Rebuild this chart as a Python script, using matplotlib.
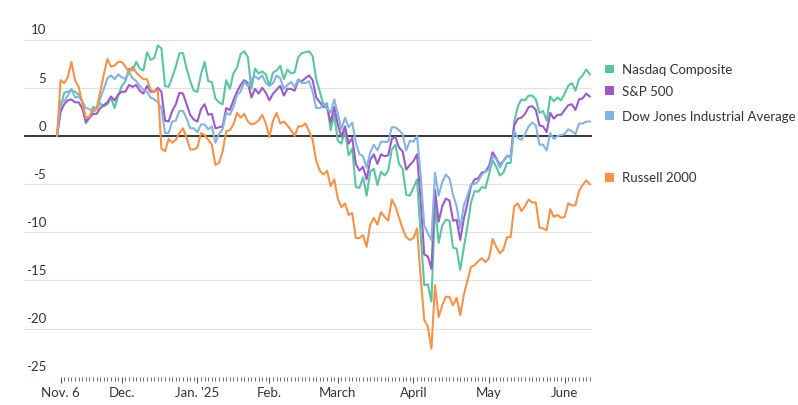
import numpy as np
import pandas as pd
import matplotlib
matplotlib.use('Agg')
import matplotlib.pyplot as plt
from matplotlib.patches import Rectangle

plt.rcParams['font.family'] = ['Lato', 'DejaVu Sans']

# trading days, Nov. 5 2024 (base) to June 11 2025
holidays = ['2024-11-28', '2024-12-25', '2025-01-01', '2025-01-09',
            '2025-01-20', '2025-02-17', '2025-04-18', '2025-05-26']
dates = pd.bdate_range('2024-11-05', '2025-06-11')
dates = dates[~dates.isin(pd.to_datetime(holidays))]

# percent change since Nov. 5
nasdaq = [0, 2.95, 4.5, 4.6, 4.7, 4.6, 4.3, 3.6, 1.3, 1.9,
          3.0, 2.9, 3.4, 3.1, 3.3, 4.0, 2.9, 4.2, 5.2, 5.7,
          7.0, 6.8, 7.7, 7.0, 6.8, 8.7, 7.9, 8.1, 9.4, 9.1,
          5.2, 5.1, 6.1, 7.2, 8.6, 8.6, 7.0, 5.7, 4.7, 4.6,
          6.4, 7.7, 5.7, 5.6, 3.9, 3.5, 3.3, 5.8, 4.9, 6.5,
          7.1, 8.5, 8.8, 8.2, 4.9, 7.0, 6.5, 6.7, 6.4, 5.2,
          6.6, 6.8, 7.3, 5.9, 6.9, 6.5, 6.6, 8.2, 8.6, 8.7,
          8.8, 8.3, 5.9, 4.6, 3.2, 3.4, 0.6, 2.2, -0.5, -0.8,
          0.6, -2.0, -1.3, -5.3, -5.4, -4.3, -6.2, -3.7, -3.4, -5.1,
          -3.7, -4.1, -3.6, -1.4, -0.9, -2.9, -3.4, -6.1, -6.2, -5.4,
          -4.5, -10.2, -15.5, -15.4, -17.2, -7.1, -11.1, -9.3, -8.7, -8.8,
          -11.6, -11.7, -13.9, -11.6, -9.4, -6.9, -5.7, -5.8, -5.3, -5.4,
          -4.0, -2.5, -3.2, -4.1, -3.8, -2.8, -2.8, 1.5, 3.1, 3.8,
          3.7, 4.2, 4.2, 3.8, 2.4, 2.6, 1.6, 4.1, 3.6, 4.0,
          3.7, 4.4, 5.2, 5.5, 4.7, 5.9, 6.3, 6.9, 6.4]

sp500 = [0, 2.5, 3.3, 3.7, 3.8, 3.5, 3.5, 2.9, 1.5, 1.9,
         2.3, 2.3, 2.9, 3.2, 3.5, 4.1, 3.7, 4.3, 4.6, 4.6,
         5.3, 5.1, 5.3, 4.7, 4.4, 5.2, 4.6, 4.6, 5.0, 4.6,
         1.6, 1.5, 2.6, 3.3, 4.5, 4.4, 3.3, 2.2, 1.7, 1.5,
         2.8, 3.3, 2.2, 2.3, 0.8, 0.9, 1.0, 2.9, 2.7, 3.7,
         4.6, 5.3, 5.8, 5.5, 4.0, 4.9, 4.4, 5.0, 4.5, 3.7,
         4.4, 4.8, 5.2, 4.2, 4.9, 4.9, 4.7, 5.8, 5.7, 6.0,
         6.3, 5.8, 4.0, 3.5, 3.0, 3.0, 1.4, 3.0, 1.2, -0.1,
         1.0, -0.8, -0.2, -2.9, -3.6, -3.2, -4.5, -2.5, -1.9, -2.9,
         -1.9, -2.1, -2.0, -0.3, -0.1, -1.2, -1.6, -3.5, -3.0, -2.6,
         -1.9, -6.7, -12.3, -12.5, -13.8, -5.6, -8.9, -7.3, -6.5, -6.7,
         -8.8, -8.7, -10.8, -8.6, -7.0, -5.2, -4.5, -4.4, -3.8, -3.7,
         -3.1, -1.7, -2.3, -3.0, -2.6, -2.1, -2.1, 1.1, 1.8, 1.9,
         2.3, 3.0, 3.1, 2.7, 1.1, 1.0, 0.4, 2.4, 1.8, 2.2,
         2.2, 2.7, 3.2, 3.3, 2.7, 3.8, 3.9, 4.4, 4.1]

dow = [0, 3.6, 3.6, 4.2, 4.9, 4.0, 4.1, 3.6, 2.9, 2.8,
       2.5, 2.8, 3.9, 4.9, 6.0, 6.3, 5.9, 6.4, 6.1, 5.9,
       6.6, 6.0, 5.7, 5.2, 4.8, 4.6, 4.0, 3.8, 3.5, 2.9,
       0.3, 0.3, 1.5, 1.6, 2.6, 2.6, 1.8, 0.8, 0.8, 0.4,
       1.2, 1.2, 0.7, 1.0, -0.7, 0.2, 0.7, 2.4, 2.2, 3.0,
       4.3, 4.6, 5.6, 5.2, 5.9, 6.2, 5.9, 6.3, 5.5, 5.2,
       5.5, 6.3, 6.0, 4.9, 5.3, 5.6, 5.1, 5.9, 5.5, 5.5,
       5.7, 4.6, 2.9, 2.9, 3.3, 2.9, 2.4, 3.8, 2.3, 0.7,
       1.9, 0.9, 1.4, -0.7, -1.9, -2.1, -3.3, -1.7, -0.9, -1.5,
       -0.6, -0.6, -0.6, 0.9, 0.9, 0.6, 0.2, -1.5, -0.5, -0.6,
       0.0, -4.0, -9.3, -10.1, -10.8, -3.8, -6.2, -4.8, -4.0, -4.4,
       -6.1, -7.3, -9.6, -7.2, -6.2, -5.0, -5.0, -4.7, -4.0, -3.7,
       -3.5, -2.1, -2.4, -3.3, -2.6, -2.0, -2.3, 0.5, -0.2, -0.4,
       0.2, 1.0, 1.4, 1.1, -0.9, -0.9, -1.5, 0.3, -0.3, 0.0,
       0.1, 0.2, 0.7, 0.5, 0.2, 1.3, 1.3, 1.5, 1.5]

russell = [0, 5.8, 5.5, 6.1, 7.7, 5.8, 5.1, 3.5, 1.9, 2.0,
           2.8, 2.8, 4.6, 6.4, 8.0, 7.2, 7.3, 7.7, 7.7, 7.2,
           6.6, 7.2, 6.6, 6.2, 5.9, 5.9, 4.8, 4.6, 4.8, -1.3,
           -1.6, -0.3, -0.7, -0.4, 0.3, 0.8, -0.2, -1.4, -1.4, -1.2,
           0.3, 0.1, -0.4, -0.9, -3.0, -2.8, -1.6, 0.5, 0.6, 1.2,
           2.4, 1.9, 2.3, 1.5, 1.2, 1.3, 1.6, 2.2, 1.3, -0.1,
           1.6, 2.4, 1.3, 1.5, 1.1, 0.6, 0.0, 1.0, 1.0, 1.3,
           0.5, -0.4, -2.6, -3.6, -4.0, -3.6, -5.2, -4.5, -6.5, -7.4,
           -7.0, -8.2, -8.0, -10.6, -10.6, -10.3, -11.5, -9.2, -8.5, -9.2,
           -7.9, -8.4, -8.8, -6.6, -7.3, -8.5, -9.6, -10.5, -10.8, -10.6,
           -9.6, -14.6, -19.1, -19.8, -22.1, -15.5, -18.8, -17.6, -16.7, -16.7,
           -17.6, -16.8, -18.6, -16.5, -15.0, -13.6, -13.4, -13.0, -12.7, -13.1,
           -12.7, -10.7, -11.5, -12.2, -11.8, -10.5, -10.5, -7.3, -7.0, -7.8,
           -7.3, -6.6, -6.9, -6.9, -9.5, -9.6, -9.8, -7.6, -8.4, -8.2,
           -8.5, -8.4, -7.0, -7.2, -7.2, -5.7, -5.1, -4.6, -5.0]

names = ['Nasdaq Composite', 'S&P 500', 'Dow Jones Industrial Average', 'Russell 2000']
colors = ['#5cc4a3', '#9a5cc4', '#86b3e0', '#f5924b']
month_labels = ["Nov. 6", "Dec.", "Jan. '25", "Feb.", "March", "April", "May", "June"]
y_ticks = [10, 5, 0, -5, -10, -15, -20, -25]

x = np.arange(len(dates))
month_pos = [1] + [i for i in range(1, len(dates)) if dates[i].month != dates[i - 1].month]

W, H = 798, 406
fig = plt.figure(figsize=(W / 100, H / 100), dpi=100)
ax = fig.add_axes([24 / W, 28.3 / H, 568 / W, 341.8 / H])
ax.set_xlim(-9.17, 148.6)
ax.set_ylim(-25, 10.5)

for v in y_ticks:
    if v == 0:
        ax.axhline(0, color='black', lw=1.1, zorder=1.5)
    else:
        ax.axhline(v, color='#e2e2e2', lw=0.9, zorder=0)
    ax.annotate(str(v), xy=(0, v), xycoords=('axes fraction', 'data'),
                xytext=(16, 7.4), textcoords='offset points',
                ha='right', va='center', fontsize=9.5, color='#333333')

for vals, c in zip([nasdaq, sp500, dow, russell], colors):
    ax.plot(x, vals, color=c, lw=1.5, zorder=2, solid_joinstyle='round')

for s in ax.spines.values():
    s.set_visible(False)
ax.set_yticks([])
ax.set_xticks(month_pos)
ax.set_xticklabels(month_labels)
ax.set_xticks(x[1:], minor=True)
ax.tick_params(axis='x', which='major', length=4, width=0.8, color='#555555',
               labelsize=9.5, labelcolor='#333333', pad=2.5)
ax.tick_params(axis='x', which='minor', length=2.6, width=0.6, color='#555555')

# labels at the right
legend_y = [70, 91.7, 116.7, 178.3]
for name, c, py in zip(names, colors, legend_y):
    fig.add_artist(Rectangle((605 / W, 1 - (py + 4.2) / H), 8.5 / W, 8.5 / H,
                             transform=fig.transFigure, color=c, lw=0))
    fig.text(621.5 / W, 1 - py / H, name, ha='left', va='center',
             fontsize=9.5, color='#333333')

fig.savefig('out.png', dpi=100)
